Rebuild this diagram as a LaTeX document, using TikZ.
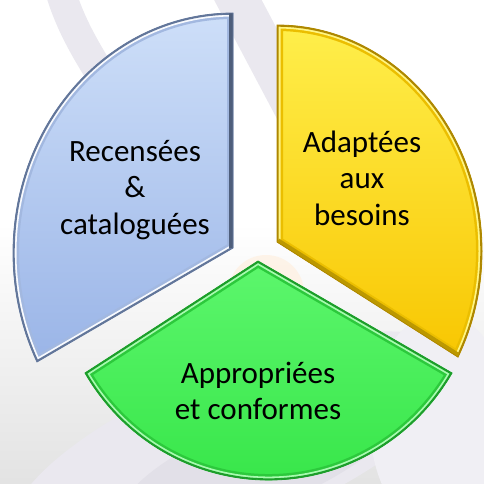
\documentclass[tikz,border=0pt]{standalone}
\usepackage{fontspec}
\setmainfont{Carlito}
\definecolor{blueTop}{HTML}{CFE0F9}
\definecolor{blueBot}{HTML}{97B2E6}
\definecolor{blueBand}{HTML}{A2B8E0}
\definecolor{blueEdge}{HTML}{62769A}
\definecolor{yelTop}{HTML}{FFF04E}
\definecolor{yelBot}{HTML}{F8C600}
\definecolor{yelBand}{HTML}{EBBE00}
\definecolor{yelEdge}{HTML}{AE8700}
\definecolor{grnTop}{HTML}{5EF76E}
\definecolor{grnBot}{HTML}{38E64A}
\definecolor{grnBand}{HTML}{2CC93C}
\definecolor{grnEdge}{HTML}{1C9E2A}
\definecolor{swoosh}{HTML}{EAE8EF}
\definecolor{swooshDark}{HTML}{E2E0E8}
\newcommand\secBlue{(233,235) -- (233,470) arc[start angle=90,end angle=207,x radius=220,y radius=240] -- cycle}
\newcommand\secYellow{(277,241) -- (277,458) arc[start angle=90,end angle=-28,x radius=205,y radius=226] -- cycle}
\newcommand\secGreen{(258,222) -- (85,110) arc[start angle=210.5,end angle=329.5,x radius=213,y radius=217.3] -- cycle}
\tikzset{
  lbl/.style={align=center, font=\fontsize{31}{36.5}\selectfont, text=black, inner sep=0pt},
}
\begin{document}
\begin{tikzpicture}[x=1pt,y=1pt]
\useasboundingbox (0,0) rectangle (484,483);
% background
\fill[white] (0,0) rectangle (484,483);
\shade[top color=white, bottom color=black!11] (0,0) rectangle (484,260);
\begin{scope}
  \clip (0,0) rectangle (484,483);
  \draw[swoosh, line width=30] (58,500) .. controls (66,470) and (78,445) .. (100,410);
  \draw[swoosh, line width=42] (222,513) -- (312,343);
  \fill[swoosh] (235,35) ellipse[x radius=240, y radius=80, rotate=22];
  \fill[swooshDark] (260,20) ellipse[x radius=150, y radius=45, rotate=22];
  \fill[swoosh!70!white] (440,60) ellipse[x radius=70, y radius=110];
  \fill[orange!12, opacity=.7] (266,190) circle[radius=38];
\end{scope}
% blue sector
\begin{scope}
  \clip \secBlue;
  \shade[top color=blueTop, bottom color=blueBot] (0,100) rectangle (240,480);
  \draw[line width=12, blueBand] \secBlue;
  \draw[line width=7, white!85!blueTop] \secBlue;
  \draw[line width=3.4, blueEdge] \secBlue;
  \draw[line width=8, blueEdge!80!black] (233,235) -- (233,470);
\end{scope}
\draw[line width=0.8, blueEdge] \secBlue;
% yellow sector
\begin{scope}
  \clip \secYellow;
  \shade[top color=yelTop, bottom color=yelBot] (270,120) rectangle (484,470);
  \draw[line width=12, yelBand] \secYellow;
  \draw[line width=7, yelTop!70!white] \secYellow;
  \draw[line width=3.4, yelEdge] \secYellow;
  \draw[line width=8, yelBand!80!black] (277,241) -- (458,126);
\end{scope}
\draw[line width=0.8, yelEdge] \secYellow;
% green sector
\begin{scope}
  \clip \secGreen;
  \shade[top color=grnTop, bottom color=grnBot] (40,0) rectangle (480,230);
  \draw[line width=12, grnBand] \secGreen;
  \draw[line width=7, grnTop!55!white] \secGreen;
  \draw[line width=3.4, grnEdge] \secGreen;
\end{scope}
\draw[line width=0.8, grnEdge] \secGreen;
% labels
\node[lbl] (tBlue) at (135,293) {Recensées\\\&\\cataloguées};
\node[lbl] (tYellow) at (362,305) {Adaptées\\aux\\besoins};
\node[lbl] (tGreen) at (258,92) {Appropriées\\et conformes};
\end{tikzpicture}
\end{document}
